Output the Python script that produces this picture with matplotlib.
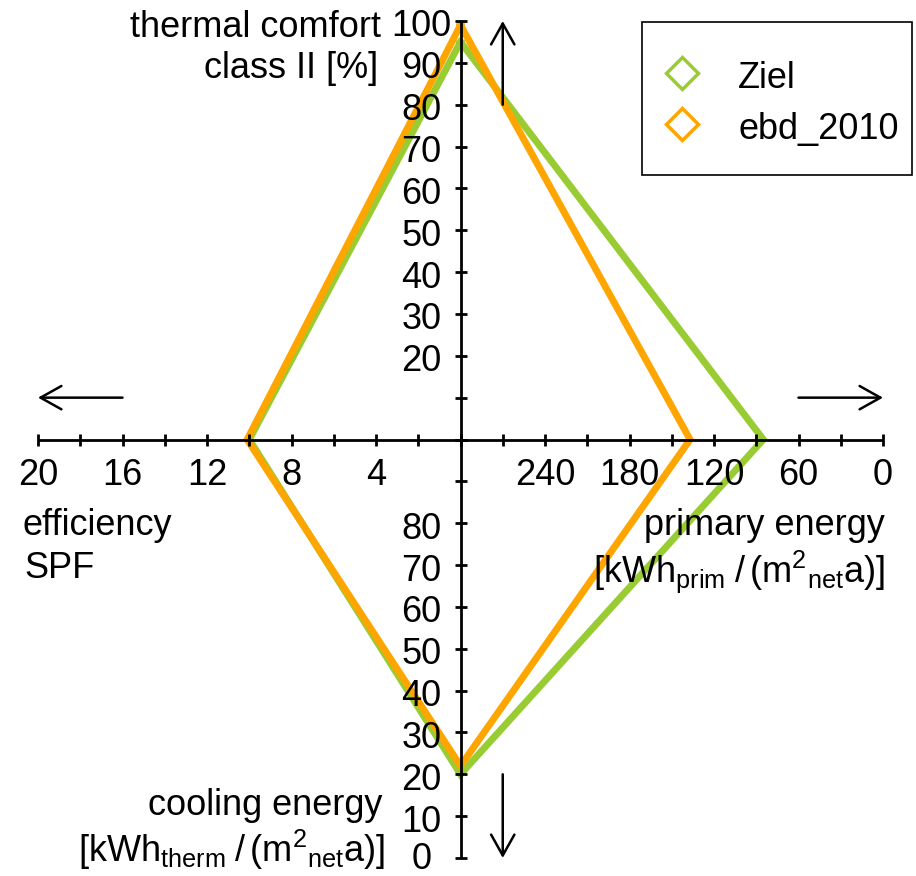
import matplotlib
matplotlib.use('Agg')
import matplotlib.pyplot as plt
from matplotlib.lines import Line2D
from matplotlib.patches import Rectangle

plt.rcParams.update({
    'font.family': ['Liberation Sans', 'DejaVu Sans'],
    'font.size': 26,
    'mathtext.fontset': 'custom',
    'mathtext.rm': 'Liberation Sans',
    'mathtext.it': 'Liberation Sans:italic',
    'mathtext.bf': 'Liberation Sans:bold',
})

W, H = 916, 876

# values (one value per half-axis)
series = ['Ziel', 'ebd_2010']
colors = ['#99cc33', '#ffa500']
comfort = [95, 99]       # thermal comfort class II [%]  (top)
primary = [85, 137]      # primary energy                (right)
cooling = [20, 22]       # cooling energy                (bottom)
spf = [10.0, 10.1]       # efficiency SPF                (left)

spf_labels = [20, 16, 12, 8, 4]
pe_labels = [240, 180, 120, 60, 0]
comfort_labels = [100, 90, 80, 70, 60, 50, 40, 30, 20]
cooling_labels = [80, 70, 60, 50, 40, 30, 20, 10, 0]


# each half-axis is mapped onto [-1, 1] of one plain axes
def x_spf(v):
    return -v / 20


def x_pe(v):
    return 1 - v / 300


def y_comf(v):
    return v / 100


def y_cool(v):
    return v / 100 - 1


def fx(x):
    return x / W


def fy(y):
    return 1 - y / H


fig = plt.figure(figsize=(W / 100, H / 100), dpi=100)
x0, x1, ytop, ybot = 38, 883, 21, 858
ax = fig.add_axes([x0 / W, 1 - ybot / H, (x1 - x0) / W, (ybot - ytop) / H])
ax.set_xlim(-1, 1)
ax.set_ylim(-1, 1)
ax.axis('off')

# diamonds
for name, c, co, pe, cl, s in zip(series, colors, comfort, primary, cooling, spf):
    xs = [0, x_pe(pe), 0, x_spf(s), 0]
    ys = [y_comf(co), 0, y_cool(cl), 0, y_comf(co)]
    ax.plot(xs, ys, color=c, lw=5.0, solid_joinstyle='miter',
            clip_on=False, zorder=2)

# cross axes with ticks
ax.plot([-1, 1], [0, 0], color='black', lw=2, clip_on=False, zorder=3,
        solid_capstyle='butt')
ax.plot([0, 0], [-1, 1], color='black', lw=2, clip_on=False, zorder=3,
        solid_capstyle='butt')
hticks = [x_spf(v) for v in range(0, 21, 2)] + [x_pe(v) for v in range(0, 301, 30)]
vticks = [y_comf(v) for v in range(0, 101, 10)] + [y_cool(v) for v in range(0, 101, 10)]
ax.plot(hticks, [0] * len(hticks), ls='none', marker='|', ms=9, mew=2,
        color='black', clip_on=False, zorder=3)
ax.plot([0] * len(vticks), vticks, ls='none', marker='_', ms=9, mew=2,
        color='black', clip_on=False, zorder=3)

for v in spf_labels:
    ax.annotate(str(v), (x_spf(v), 0), xytext=(0, -45.5), textcoords='offset pixels',
                ha='center', va='baseline')
for v in pe_labels:
    ax.annotate(str(v), (x_pe(v), 0), xytext=(0, -45.5), textcoords='offset pixels',
                ha='center', va='baseline')
for v in comfort_labels:
    ax.annotate(str(v), (0, y_comf(v)), xytext=(-39, -15.5), textcoords='offset pixels',
                ha='center', va='baseline')
for v in cooling_labels:
    dy = -11 if v == 0 else -15.5   # keep the last label inside the canvas
    ax.annotate(str(v), (0, y_cool(v)), xytext=(-39, dy), textcoords='offset pixels',
                ha='center', va='baseline')

# direction arrows
arrow = dict(arrowstyle='->,head_length=0.75,head_width=0.42', lw=1.8, color='black',
             mutation_scale=20, shrinkA=0, shrinkB=0)
ax.annotate('', xy=(-1, 0.1), xytext=(-0.8, 0.1), arrowprops=arrow, annotation_clip=False)
ax.annotate('', xy=(1, 0.1), xytext=(0.8, 0.1), arrowprops=arrow, annotation_clip=False)
ax.annotate('', xy=(0.1, 1), xytext=(0.1, 0.8), arrowprops=arrow, annotation_clip=False)
ax.annotate('', xy=(0.1, -1), xytext=(0.1, -0.8), arrowprops=arrow, annotation_clip=False)

# axis titles
fig.text(fx(381), fy(37), 'thermal comfort', ha='right', va='baseline')
fig.text(fx(378), fy(78), 'class II [%]', ha='right', va='baseline')
fig.text(fx(23), fy(535), 'efficiency', ha='left', va='baseline')
fig.text(fx(24), fy(578), 'SPF', ha='left', va='baseline')
fig.text(fx(885), fy(535), 'primary energy', ha='right', va='baseline')
fig.text(fx(885), fy(582),
         r'[kWh$_{\mathrm{prim}}\;$/$\,$(m$^{2}$$_{\mathrm{net}}$a)]',
         ha='right', va='baseline')
fig.text(fx(382), fy(815), 'cooling energy', ha='right', va='baseline')
fig.text(fx(385), fy(862),
         r'[kWh$_{\mathrm{therm}}\;$/$\,$(m$^{2}$$_{\mathrm{net}}$a)]',
         ha='right', va='baseline')

# legend box, drawn by hand to match the reference padding
fig.add_artist(Rectangle((fx(642), fy(175)), fx(912) - fx(642), fy(22) - fy(175),
                         transform=fig.transFigure, facecolor='white',
                         edgecolor='black', lw=1.2, zorder=5))
for i, (name, c) in enumerate(zip(series, colors)):
    yrow = 73 + 51 * i
    fig.add_artist(Line2D([fx(682)], [fy(yrow)], transform=fig.transFigure,
                          ls='none', marker='D', ms=16, mfc='white', mec=c,
                          mew=2.5, zorder=6))
    fig.text(fx(738), fy(yrow + 15), name, ha='left', va='baseline', zorder=6)

fig.savefig('out.png', dpi=100)
